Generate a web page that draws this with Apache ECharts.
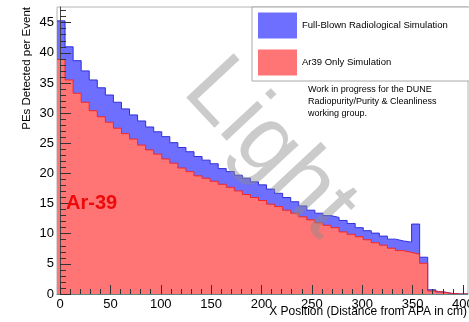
<!DOCTYPE html>
<html>
<head>
<meta charset="utf-8">
<script src="https://cdn.jsdelivr.net/npm/echarts@6/dist/echarts.min.js"></script>
<style>
  html, body { margin: 0; padding: 0; background: #fff; }
  #chart { width: 469px; height: 322px; }
</style>
</head>
<body>
<div id="chart"></div>
<script>
// histogram binning: 51 bins of 8 cm starting at -3 cm
const lowEdge = -3
const binWidth = 8
const highEdge = 405

// PEs per event, one value per bin
const fullBlown = [45.3, 41.0, 38.7, 37.0, 35.5, 34.2, 33.0, 31.8, 30.7, 29.7,
  28.7, 27.7, 26.9, 26.1, 25.1, 24.3, 23.6, 22.8, 22.2, 21.6,
  20.8, 20.3, 19.7, 19.2, 18.6, 18.1, 17.4, 16.7, 16.0, 15.3,
  14.6, 13.9, 13.4, 13.0, 12.7, 12.2, 11.7, 11.0, 10.5, 10.1,
  9.6, 9.1, 8.8, 8.6, 11.6, 6.1, 0.7, 0.35, 0.1, 0, 0]
const ar39Only = [38.9, 35.5, 33.3, 31.8, 30.4, 29.4, 28.5, 27.5, 26.6, 25.7,
  24.7, 23.9, 23.2, 22.4, 21.7, 20.9, 20.3, 19.6, 19.2, 18.7,
  18.2, 17.7, 17.1, 16.5, 16.0, 15.5, 14.9, 14.5, 13.9, 13.4,
  12.8, 12.3, 11.8, 11.4, 11.0, 10.3, 9.9, 9.5, 9.0, 8.5,
  8.1, 7.6, 7.2, 6.9, 6.6, 5.1, 0.5, 0.3, 0.1, 0, 0]

// tick labels
const xMajorTicks = [0, 50, 100, 150, 200, 250, 300, 350, 400]
const yMajorTicks = [0, 5, 10, 15, 20, 25, 30, 35, 40, 45]
const yMax = 47.6

const range = (a, b, step) => {
  let out = []
  for (let v = a; v <= b + 1e-9; v += step) out.push(v)
  return out
}
const xMinorTicks = range(0, 400, 10)
const yMinorTicks = range(0, 47, 1)

// step points: [left edge of bin, content], plus closing point at the last edge
const toSteps = (values) => {
  let pts = values.map((v, i) => [lowEdge + i * binWidth, v])
  pts.push([highEdge, values[values.length - 1]])
  return pts
}

const FONT = 'Liberation Sans, Arial, Helvetica, sans-serif'
const BLUE = '#6e6eff'
const RED = '#ff7474'

let myChart = echarts.init(document.getElementById('chart'), null, {renderer: 'canvas'})

let option = {
  animation: false,
  backgroundColor: '#fff',
  grid: {
    left: 57, top: 7, right: 1, bottom: 28,
    containLabel: false, outerBoundsMode: 'none',
    show: true, borderColor: '#b4b4b4', borderWidth: 1
  },
  legend: {
    orient: 'vertical',
    left: 252, top: 7,
    padding: [5.5, 26, 5.5, 6],
    itemWidth: 39, itemHeight: 26, itemGap: 11,
    icon: 'rect',
    backgroundColor: '#fff',
    borderColor: '#a8a8a8', borderWidth: 1, borderRadius: 0,
    textStyle: {fontSize: 9.5, fontFamily: FONT, color: '#000'},
    data: [
      {name: 'Full-Blown Radiological Simulation', itemStyle: {color: BLUE}},
      {name: 'Ar39 Only Simulation', itemStyle: {color: RED}}
    ]
  },
  xAxis: [
    {
      type: 'value', min: lowEdge, max: highEdge, z: 10,
      axisLine: {show: true, lineStyle: {color: '#5f8585', width: 1}},
      axisTick: {show: true, inside: true, length: 9, customValues: xMajorTicks, lineStyle: {color: '#333'}},
      axisLabel: {customValues: xMajorTicks, fontSize: 13, fontFamily: FONT, color: '#000', margin: 4, hideOverlap: false},
      splitLine: {show: false}
    },
    {
      type: 'value', min: lowEdge, max: highEdge, position: 'bottom', z: 10,
      axisLine: {show: false},
      axisTick: {show: true, inside: true, length: 5, customValues: xMinorTicks, lineStyle: {color: '#333'}},
      axisLabel: {show: false},
      splitLine: {show: false}
    }
  ],
  yAxis: [
    {
      type: 'value', min: 0, max: yMax, z: 10,
      axisLine: {show: true, lineStyle: {color: '#444', width: 1}},
      axisTick: {show: true, inside: true, length: 11, customValues: yMajorTicks, lineStyle: {color: '#333'}},
      axisLabel: {customValues: yMajorTicks, fontSize: 13, fontFamily: FONT, color: '#000', margin: 3},
      splitLine: {show: false}
    },
    {
      type: 'value', min: 0, max: yMax, position: 'left', z: 10,
      axisLine: {show: false},
      axisTick: {show: true, inside: true, length: 6, customValues: yMinorTicks, lineStyle: {color: '#333'}},
      axisLabel: {show: false},
      splitLine: {show: false}
    }
  ],
  series: [
    {
      name: 'Full-Blown Radiological Simulation',
      type: 'line', step: 'end', symbol: 'none',
      xAxisIndex: 0, yAxisIndex: 0,
      data: toSteps(fullBlown),
      itemStyle: {color: BLUE},
      lineStyle: {color: '#3030d8', width: 1},
      areaStyle: {color: BLUE, opacity: 1}
    },
    {
      name: 'Ar39 Only Simulation',
      type: 'line', step: 'end', symbol: 'none',
      xAxisIndex: 0, yAxisIndex: 0,
      data: toSteps(ar39Only),
      itemStyle: {color: RED},
      lineStyle: {color: '#f02828', width: 1},
      areaStyle: {color: RED, opacity: 1}
    }
  ],
  graphic: [
    // watermark
    {
      type: 'text', x: 200, y: 74, rotation: -47 * Math.PI / 180, z: 50,
      style: {
        text: 'Light', fontSize: 94, fontFamily: FONT,
        fill: 'rgba(140,140,140,0.45)',
        align: 'left', verticalAlign: 'middle', textAlign: 'left', textVerticalAlign: 'middle'
      }
    },
    {
      type: 'text', x: 27, y: 7, rotation: Math.PI / 2, z: 50,
      style: {
        text: 'PEs Detected per Event', fontSize: 11.5, fontFamily: FONT, fill: '#000',
        align: 'right', verticalAlign: 'middle', textAlign: 'right', textVerticalAlign: 'middle'
      }
    },
    {
      type: 'text', x: 467, y: 312, z: 50,
      style: {
        text: 'X Position (Distance from APA in cm)', fontSize: 12, fontFamily: FONT, fill: '#000',
        align: 'right', verticalAlign: 'middle', textAlign: 'right', textVerticalAlign: 'middle'
      }
    },
    {
      type: 'text', x: 308, y: 84, z: 50,
      style: {
        text: 'Work in progress for the DUNE\nRadiopurity/Purity & Cleanliness\nworking group.',
        fontSize: 9, lineHeight: 11.7, fontFamily: FONT, fill: '#000',
        align: 'left', verticalAlign: 'top', textAlign: 'left', textVerticalAlign: 'top'
      }
    },
    {
      type: 'text', x: 66, y: 203, z: 50,
      style: {
        text: 'Ar-39', fontSize: 20, fontWeight: 'bold', fontFamily: FONT, fill: '#ee0a0a',
        align: 'left', verticalAlign: 'middle', textAlign: 'left', textVerticalAlign: 'middle'
      }
    }
  ]
}

myChart.setOption(option)
</script>
</body>
</html>
